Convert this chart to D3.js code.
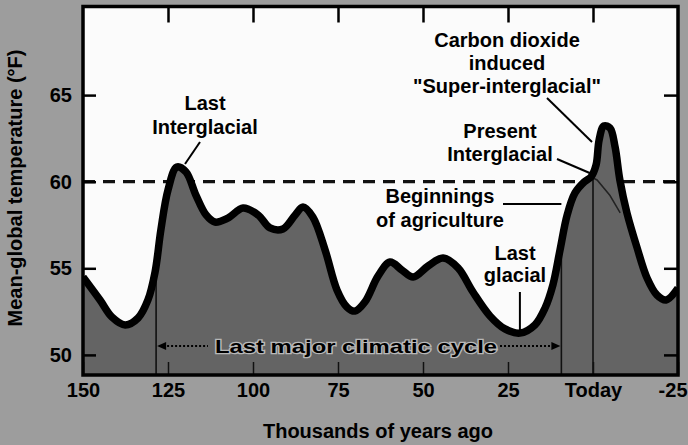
<!DOCTYPE html>
<html><head><meta charset="utf-8">
<script src="https://cdn.jsdelivr.net/npm/d3@7/dist/d3.min.js"></script>
<style>
html,body{margin:0;padding:0;background:#9d9d9d;}
svg{display:block;}
text{font-family:"Liberation Sans",Arial,sans-serif;}
</style></head>
<body>
<svg id="chart" width="688" height="445"></svg>
<script>
// ---- data (thousands of years ago, mean global temperature °F) ----
const years = [150,145,141.5,137.6,133.8,130.9,128.8,127.1,125,122.4,119.7,116.8,113.8,111.2,107.4,102.9,98.5,95,91.2,87.6,85.3,82.4,78.8,75.3,72.4,70,67.1,63.2,59.7,56.2,52.9,48.5,44.1,39.7,35.3,30.3,25.9,21.5,17.1,14.1,11.8,9.7,7.6,5.3,2.6,0.6,-0.9,-1.8,-3.2,-5.0,-6.5,-7.9,-10,-12.9,-15.9,-18.8,-21.5,-25];
const temps = [54.5,53.17,52.19,51.73,52.13,53.17,54.79,57.21,59.52,60.85,60.56,59.23,58.08,57.67,57.9,58.48,58.08,57.33,57.27,58.08,58.54,57.96,56.06,53.75,52.77,52.53,53.05,54.56,55.36,54.9,54.5,55.13,55.59,55.02,53.63,52.25,51.5,51.26,51.73,52.71,54.04,56.06,58.08,59.35,59.98,60.27,60.96,62.41,63.22,63.1,62.0,60.1,58.19,56.23,54.44,53.46,53.17,53.86];
// natural (no-CO2) continuation drawn thin inside the peak
const naturalYears = [0.6,-1.2,-5,-8];
const naturalTemps = [60.27,60.1,59.2,58.2];
const xTickValues = [150,125,100,75,50,25,0,-25];
const xTickLabels = ["150","125","100","75","50","25","Today","-25"];
const yTickValues = [50,55,60,65];
const referenceTemp = 60;
const cycleBounds = [128.5, 9.3];
const todayYear = 0;

const svg = d3.select("#chart");
const L = 83, R = 678, T = 6.5, B = 375;
const x = d3.scaleLinear().domain([150,-25]).range([L,R]);
const y = d3.scaleLinear().domain([50,65]).range([354.9,95.1]);

// plot background
svg.append("rect").attr("x",L).attr("y",T).attr("width",R-L).attr("height",B-T).attr("fill","#fbfbfb");

// dashed reference line
svg.append("line").attr("x1",L).attr("x2",R).attr("y1",y(referenceTemp)).attr("y2",y(referenceTemp))
  .attr("stroke","#111").attr("stroke-width",3.2).attr("stroke-dasharray","12,8");

const pts = years.map((d,i)=>[d,temps[i]]);
const area = d3.area().x(d=>x(d[0])).y0(B).y1(d=>y(d[1])).curve(d3.curveCatmullRom.alpha(0.5));
const line = d3.line().x(d=>x(d[0])).y(d=>y(d[1])).curve(d3.curveCatmullRom.alpha(0.5));

const defs = svg.append("defs");
defs.append("clipPath").attr("id","under").append("path").attr("d",area(pts));
defs.append("clipPath").attr("id","plot").append("rect").attr("x",L).attr("y",T).attr("width",R-L).attr("height",B-T);

svg.append("path").attr("d",area(pts)).attr("fill","#646464").attr("clip-path","url(#plot)");

// vertical markers inside fill
const g = svg.append("g").attr("clip-path","url(#under)");
[cycleBounds[0],cycleBounds[1],todayYear].forEach(v=>{
  g.append("line").attr("x1",x(v)).attr("x2",x(v)).attr("y1",T).attr("y2",B)
    .attr("stroke","#111").attr("stroke-width",1.6);
});
const nat = naturalYears.map((d,i)=>[d,naturalTemps[i]]);
g.append("path").attr("d",d3.line().x(d=>x(d[0])).y(d=>y(d[1]))(nat)).attr("fill","none").attr("stroke","#222").attr("stroke-width",1.5);

// main curve
svg.append("path").attr("d",line(pts)).attr("fill","none").attr("stroke","#000")
  .attr("stroke-width",7.5).attr("stroke-linejoin","round").attr("clip-path","url(#plot)");

// axes
const fontTick = g2 => g2.selectAll("text").attr("font-size",20).attr("font-weight","bold").attr("fill","#000")
  .attr("font-family","Liberation Sans, Arial, sans-serif");
const ax = svg.append("g").attr("transform",`translate(0,${B})`)
  .call(d3.axisBottom(x).tickValues(xTickValues).tickSize(-13).tickPadding(8).tickFormat((d,i)=>xTickLabels[i]));
ax.call(fontTick); ax.select(".domain").remove(); ax.selectAll("line").attr("stroke","#111").attr("stroke-width",1.5);
// keep the last label inside the picture
ax.selectAll(".tick").filter(d=>d===-25).select("text").attr("text-anchor","end").attr("dx",9);
const axT = svg.append("g").attr("transform",`translate(0,${T})`)
  .call(d3.axisTop(x).tickValues(xTickValues.slice(1,-1)).tickSize(-16).tickFormat(""));
axT.select(".domain").remove(); axT.selectAll("line").attr("stroke","#000").attr("stroke-width",2.5);
const ayL = svg.append("g").attr("transform",`translate(${L},0)`)
  .call(d3.axisLeft(y).tickValues(yTickValues).tickSize(-13).tickPadding(11));
ayL.call(fontTick); ayL.select(".domain").remove(); ayL.selectAll("line").attr("stroke","#000").attr("stroke-width",2.5);
const ayR = svg.append("g").attr("transform",`translate(${R},0)`)
  .call(d3.axisRight(y).tickValues(yTickValues).tickSize(-14).tickFormat(""));
ayR.select(".domain").remove(); ayR.selectAll("line").attr("stroke","#000").attr("stroke-width",2.5);

// frame
svg.append("rect").attr("x",L).attr("y",T).attr("width",R-L).attr("height",B-T)
  .attr("fill","none").attr("stroke","#000").attr("stroke-width",3.5);

// axis titles
svg.append("text").attr("x",378).attr("y",438).attr("text-anchor","middle")
  .attr("font-size",20).attr("font-weight","bold").text("Thousands of years ago");
svg.append("text").attr("transform","translate(22,188) rotate(-90)").attr("text-anchor","middle")
  .attr("font-size",20).attr("font-weight","bold").text("Mean-global temperature (°F)");

// annotations
function label(lines, cx, y0, dy){
  lines.forEach((t,i)=>svg.append("text").attr("x",cx).attr("y",y0+i*dy).attr("text-anchor","middle")
    .attr("font-size",20).attr("font-weight","bold").attr("fill","#000").text(t));
}
label(["Last","Interglacial"],205,110,24);
label(["Carbon dioxide","induced","\"Super-interglacial\""],507,47,23);
label(["Present","Interglacial"],500,138,22.5);
label(["Beginnings","of agriculture"],440,203,24);
label(["Last","glacial"],515,260,22);

function seg(x1,y1,x2,y2,w){svg.append("line").attr("x1",x1).attr("y1",y1).attr("x2",x2).attr("y2",y2)
  .attr("stroke","#000").attr("stroke-width",w||2);}
seg(200,142,185,164);
seg(547,98,592,142);
seg(557,159,592,174);
seg(503,204,x(cycleBounds[1]),204);
seg(x(21.5),292,x(21.5),y(51.26));

// cycle arrow + label
const ay = 346;
svg.append("line").attr("x1",x(cycleBounds[0])+3).attr("x2",208).attr("y1",ay).attr("y2",ay)
  .attr("stroke","#000").attr("stroke-width",2).attr("stroke-dasharray","2,2");
svg.append("line").attr("x1",500).attr("x2",x(cycleBounds[1])-3).attr("y1",ay).attr("y2",ay)
  .attr("stroke","#000").attr("stroke-width",2).attr("stroke-dasharray","2,2");
svg.append("path").attr("d",`M${x(cycleBounds[0])+1},${ay} l9,-4 l0,8 z`).attr("fill","#000");
svg.append("path").attr("d",`M${x(cycleBounds[1])-1},${ay} l-9,-4 l0,8 z`).attr("fill","#000");
svg.append("text").attr("x",356).attr("y",353).attr("text-anchor","middle")
  .attr("font-family","DejaVu Serif, serif").attr("font-weight","bold").attr("font-size",19)
  .attr("textLength",282).attr("lengthAdjust","spacingAndGlyphs")
  .attr("fill","#000").attr("stroke","#b8b8b8").attr("stroke-width",2.5).attr("paint-order","stroke")
  .text("Last major climatic cycle");
</script>
</body></html>
